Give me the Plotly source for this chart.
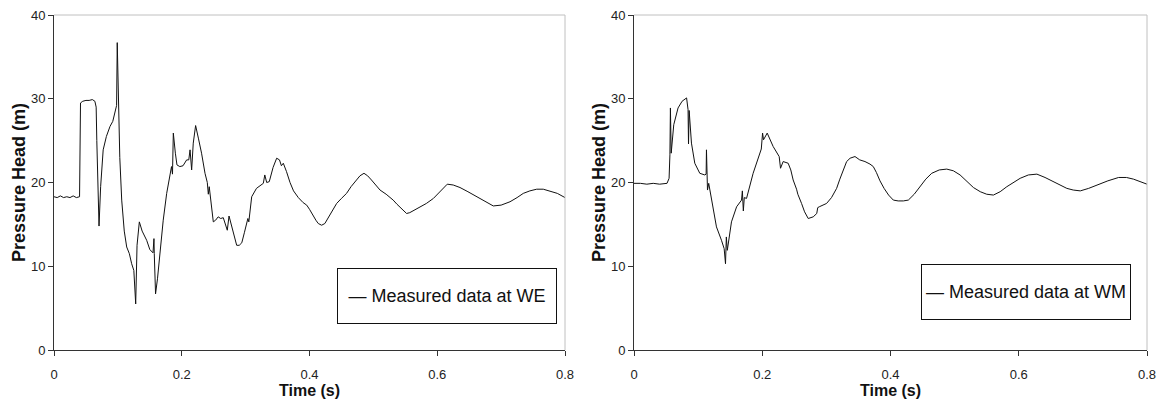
import plotly.graph_objects as go

# ---- data ----
t_we = [0.000, 0.005, 0.010, 0.015, 0.020, 0.025, 0.030, 0.035, 0.040, 0.0415, 0.045, 0.050, 0.055, 0.060,
        0.064, 0.066, 0.067, 0.0705, 0.073, 0.077, 0.082, 0.0877, 0.092, 0.0955, 0.098, 0.099, 0.103, 0.106,
        0.110, 0.1138, 0.118, 0.1216, 0.1250, 0.1279, 0.1300, 0.1336, 0.138, 0.1451, 0.150, 0.155, 0.1565,
        0.157, 0.159, 0.162, 0.166, 0.171, 0.1764, 0.181, 0.184, 0.1855, 0.1868, 0.190, 0.1925, 0.197, 0.202,
        0.2077, 0.211, 0.213, 0.2155, 0.218, 0.2217, 0.226, 0.231, 0.2364, 0.2400, 0.2416, 0.243, 0.2494,
        0.253, 0.257, 0.261, 0.265, 0.268, 0.2713, 0.274, 0.277, 0.2807, 0.286, 0.290, 0.294, 0.298, 0.3016,
        0.3035, 0.305, 0.3095, 0.317, 0.3225, 0.3277, 0.330, 0.333, 0.337, 0.343, 0.3486, 0.353, 0.356, 0.359,
        0.364, 0.3695, 0.375, 0.3825, 0.390, 0.3956, 0.400, 0.405, 0.410, 0.4138, 0.419, 0.424, 0.428, 0.433,
        0.438, 0.4425, 0.450, 0.458, 0.465, 0.472, 0.479, 0.4853, 0.491, 0.497, 0.504, 0.5104, 0.520, 0.531,
        0.537, 0.542, 0.547, 0.552, 0.557, 0.562, 0.573, 0.583, 0.594, 0.600, 0.607, 0.6157, 0.625, 0.6356,
        0.648, 0.6618, 0.675, 0.6877, 0.700, 0.7139, 0.725, 0.7347, 0.745, 0.7557, 0.766, 0.7765, 0.788, 0.800]
p_we = [18.3, 18.2, 18.4, 18.2, 18.3, 18.2, 18.4, 18.2, 18.3, 29.5, 29.7, 29.8, 29.8, 29.9,
        29.7, 29.0, 25.0, 14.8, 19.5, 23.9, 25.5, 26.7, 27.3, 28.3, 29.2, 36.7, 23.0, 17.9,
        14.2, 12.3, 11.5, 10.3, 9.5, 5.5, 12.5, 15.3, 14.2, 13.1, 12.0, 11.6, 13.3,
        11.5, 6.7, 8.5, 11.9, 15.5, 18.7, 20.5, 21.9, 21.0, 25.9, 23.5, 22.1, 21.9, 22.0,
        22.7, 22.7, 23.9, 21.5, 24.7, 26.8, 25.3, 23.5, 21.1, 20.0, 18.6, 19.5, 15.3,
        15.5, 15.9, 15.7, 15.8, 15.2, 14.3, 16.0, 15.2, 13.9, 12.5, 12.5, 12.8, 14.0, 15.1,
        15.7, 15.3, 18.3, 19.3, 19.6, 19.9, 20.9, 20.0, 20.1, 21.8, 22.9, 22.7, 22.0, 22.3,
        21.3, 20.0, 19.0, 18.2, 17.6, 17.3, 16.8, 16.1, 15.5, 15.1, 14.9, 15.1, 15.6, 16.3,
        16.9, 17.5, 18.1, 18.7, 19.5, 20.2, 20.8, 21.1, 20.8, 20.3, 19.7, 19.1, 18.6, 17.9,
        17.4, 17.0, 16.6, 16.3, 16.4, 16.6, 17.1, 17.5, 18.1, 18.6, 19.2, 19.8, 19.7, 19.4,
        18.9, 18.3, 17.7, 17.2, 17.3, 17.7, 18.2, 18.7, 19.0, 19.2, 19.2, 19.0, 18.7, 18.2]

t_wm = [0.000, 0.010, 0.020, 0.030, 0.040, 0.0515, 0.0547, 0.0560, 0.0568, 0.0580, 0.062, 0.0687, 0.075,
        0.0792, 0.082, 0.0843, 0.0850, 0.0860, 0.0896, 0.0948, 0.1026, 0.1104, 0.1125, 0.113, 0.1146, 0.1165,
        0.122, 0.1286, 0.1364, 0.1406, 0.1427, 0.1440, 0.1455, 0.148, 0.152, 0.160, 0.1677, 0.1690, 0.1705,
        0.1720, 0.1755, 0.1858, 0.1963, 0.1985, 0.2005, 0.2020, 0.2077, 0.217, 0.2264, 0.2285, 0.2326, 0.2404,
        0.2445, 0.2482, 0.2535, 0.2555, 0.2613, 0.266, 0.2717, 0.2795, 0.2850, 0.2865, 0.2889, 0.3003, 0.308,
        0.316, 0.321, 0.3263, 0.3316, 0.337, 0.3446, 0.352, 0.3602, 0.368, 0.3732, 0.378, 0.3836, 0.390,
        0.397, 0.4044, 0.412, 0.420, 0.4278, 0.437, 0.446, 0.455, 0.4643, 0.476, 0.4877, 0.498, 0.5085, 0.519,
        0.5293, 0.540, 0.550, 0.5605, 0.571, 0.5814, 0.592, 0.6022, 0.615, 0.6283, 0.641, 0.6542, 0.665, 0.675,
        0.685, 0.696, 0.709, 0.722, 0.739, 0.7557, 0.768, 0.779, 0.790, 0.800]
p_wm = [19.9, 19.9, 19.8, 19.9, 19.8, 19.9, 20.5, 23.3, 28.9, 23.5, 26.9, 28.9, 29.7,
        30.0, 30.1, 28.7, 24.6, 28.6, 24.7, 22.3, 21.1, 20.9, 21.0, 23.9, 19.1, 19.9,
        17.3, 14.7, 13.1, 12.1, 10.3, 13.5, 11.9, 13.5, 15.3, 17.1, 17.9, 19.0, 16.6,
        18.2, 18.1, 21.1, 23.7, 24.0, 25.9, 25.1, 25.9, 24.3, 23.1, 21.7, 22.5, 22.3,
        21.5, 20.3, 19.2, 18.6, 17.5, 16.5, 15.7, 15.9, 16.3, 17.0, 17.1, 17.5, 18.2,
        19.3, 20.4, 21.5, 22.5, 22.9, 23.1, 22.7, 22.5, 22.2, 21.9, 21.2, 20.2, 19.3,
        18.5, 17.9, 17.8, 17.8, 17.9, 18.6, 19.5, 20.4, 21.1, 21.5, 21.6, 21.4, 20.9, 20.1,
        19.4, 18.9, 18.6, 18.5, 18.9, 19.5, 20.0, 20.5, 20.9, 21.0, 20.6, 20.1, 19.6, 19.3,
        19.1, 19.0, 19.3, 19.7, 20.2, 20.6, 20.6, 20.4, 20.1, 19.8]

x_ticks = [0, 0.2, 0.4, 0.6, 0.8]
x_tick_labels = ["0", "0.2", "0.4", "0.6", "0.8"]
y_ticks = [0, 10, 20, 30, 40]
y_tick_labels = ["0", "10", "20", "30", "40"]
legend_labels = ["Measured data at WE", "Measured data at WM"]

FONT = "Liberation Sans, Arial, sans-serif"
W, H = 1161, 410

fig = go.Figure()
fig.add_trace(go.Scatter(x=t_we, y=p_we, mode="lines", name=legend_labels[0],
                         line=dict(color="#111111", width=1), xaxis="x", yaxis="y", showlegend=False))
fig.add_trace(go.Scatter(x=t_wm, y=p_wm, mode="lines", name=legend_labels[1],
                         line=dict(color="#111111", width=1), xaxis="x2", yaxis="y2", showlegend=False))

ydom = [60 / H, 395 / H]
common_x = dict(range=[0, 0.8], tickvals=x_ticks, ticktext=x_tick_labels, ticks="outside", ticklen=5,
                tickcolor="#333", showline=True, linecolor="#333", linewidth=1, showgrid=False,
                zeroline=False, automargin=False, ticklabelstandoff=7,
                tickfont=dict(family=FONT, size=13, color="#222"),
                title=dict(text="<b>Time (s)</b>", font=dict(family=FONT, size=16, color="#111"), standoff=3))
common_y = dict(range=[0, 40], tickvals=y_ticks, ticktext=y_tick_labels, ticks="outside", ticklen=5,
                tickcolor="#333", showline=True, linecolor="#333", linewidth=1, showgrid=False,
                zeroline=False, automargin=False, tickfont=dict(family=FONT, size=13, color="#222"),
                title=dict(text="<b>Pressure Head (m)</b>", font=dict(family=FONT, size=18, color="#111"),
                           standoff=0))

fig.update_layout(
    width=W, height=H, margin=dict(l=0, r=0, t=0, b=0),
    paper_bgcolor="white", plot_bgcolor="white",
    font=dict(family=FONT, color="#111"),
    xaxis=dict(domain=[54 / W, 565 / W], anchor="y", **common_x),
    yaxis=dict(domain=ydom, anchor="x", **common_y),
    xaxis2=dict(domain=[634 / W, 1147 / W], anchor="y2", **common_x),
    yaxis2=dict(domain=ydom, anchor="x2", **common_y),
)

# light grey top / right frame lines
for xr in ["x", "x2"]:
    yr = "y" if xr == "x" else "y2"
    fig.add_shape(type="line", xref=f"{xr} domain", yref=f"{yr} domain", x0=0, x1=1, y0=1, y1=1,
                  line=dict(color="#c0c0c0", width=1))
    fig.add_shape(type="line", xref=f"{xr} domain", yref=f"{yr} domain", x0=1, x1=1, y0=0, y1=1,
                  line=dict(color="#c0c0c0", width=1))

# boxed legends
fig.add_annotation(xref="paper", yref="paper", x=557 / W, y=(H - 268) / H, xanchor="right", yanchor="top",
                   text="\u2014 " + legend_labels[0], showarrow=False, width=218, height=54,
                   align="center", valign="middle", bordercolor="#111", borderwidth=1, borderpad=0,
                   bgcolor="white", font=dict(family=FONT, size=18, color="#111"))
fig.add_annotation(xref="paper", yref="paper", x=1131 / W, y=(H - 264) / H, xanchor="right", yanchor="top",
                   text="\u2014 " + legend_labels[1], showarrow=False, width=208, height=54,
                   align="center", valign="middle", bordercolor="#111", borderwidth=1, borderpad=0,
                   bgcolor="white", font=dict(family=FONT, size=18, color="#111"))

fig.write_html("out.html")
